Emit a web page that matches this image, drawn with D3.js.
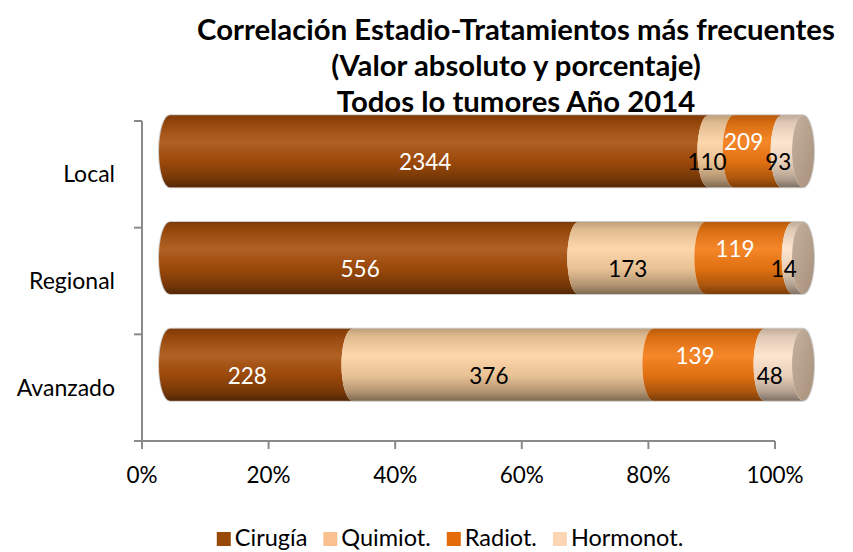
<!DOCTYPE html>
<html><head><meta charset="utf-8">
<script src="https://cdn.jsdelivr.net/npm/d3@7"></script>
<style>body{margin:0;background:#fff}svg{display:block}</style>
</head><body>
<script>
const categories = ["Local", "Regional", "Avanzado"];
const seriesNames = ["Cirugía", "Quimiot.", "Radiot.", "Hormonot."];
const cirugia  = [2344, 556, 228];
const quimiot  = [110, 173, 376];
const radiot   = [209, 119, 139];
const hormonot = [93, 14, 48];
const xTicks = [0, 0.2, 0.4, 0.6, 0.8, 1];
const titleLines = ["Correlación Estadio-Tratamientos más frecuentes", "(Valor absoluto y porcentaje)", "Todos lo tumores Año 2014"];

const barColors = ["#a84f0b", "#fdd3a2", "#f47a12", "#fde3cb"];
const legendColors = ["#984807", "#fac090", "#e46c0a", "#fcd5b5"];
const labelColors = ["#ffffff", "#000000", "#ffffff", "#000000"];
const labelDy = [11, 11, -9, 11];

const W = 853, H = 552;
const svg = d3.select("body").append("svg").attr("width", W).attr("height", H);
const FONT = "Lato, 'Open Sans', sans-serif";

const values = [cirugia, quimiot, radiot, hormonot];
const rows = categories.map((c, i) => {
  const vals = values.map(s => s[i]);
  const tot = d3.sum(vals);
  let acc = 0;
  return {cat: c, segs: vals.map((v, k) => { const s = {k, v, a: acc / tot, b: (acc + v) / tot}; acc += v; return s; })};
});

const plot = {l: 142, r: 775, t: 121, b: 441};
const x = d3.scaleLinear().domain([0, 1]).range([plot.l, plot.r]);
const y = d3.scaleBand().domain(categories).range([plot.t, plot.b]).paddingInner(0).paddingOuter(0);

// gradients
const defs = svg.append("defs");
const g1 = defs.append("linearGradient").attr("id", "shade").attr("x1", 0).attr("y1", 0).attr("x2", 0).attr("y2", 1);
[[0, "#000", 0.25], [0.1, "#000", 0.12], [0.38, "#fff", 0.1], [0.65, "#000", 0.08], [0.88, "#000", 0.3], [1, "#000", 0.5]]
  .forEach(s => g1.append("stop").attr("offset", s[0]).attr("stop-color", s[1]).attr("stop-opacity", s[2]));
const g2 = defs.append("linearGradient").attr("id", "capg").attr("x1", 0).attr("y1", 0).attr("x2", 1).attr("y2", 1);
g2.append("stop").attr("offset", 0).attr("stop-color", "#c4b19e");
g2.append("stop").attr("offset", 1).attr("stop-color", "#a8917c");

// axes
const axisColor = "#8a8a8a";
const ax = svg.append("g");
ax.append("line").attr("x1", plot.l).attr("x2", plot.l).attr("y1", plot.t).attr("y2", plot.b)
  .attr("stroke", axisColor).attr("stroke-width", 2);
const yEdges = categories.map(c => y(c)).concat([plot.b]);
ax.selectAll(".yt").data(yEdges).join("line").attr("x1", plot.l - 8).attr("x2", plot.l)
  .attr("y1", d => d).attr("y2", d => d).attr("stroke", axisColor).attr("stroke-width", 2);
ax.append("line").attr("x1", plot.l - 8).attr("x2", plot.r).attr("y1", plot.b).attr("y2", plot.b)
  .attr("stroke", axisColor).attr("stroke-width", 2);
ax.selectAll(".xt").data(xTicks).join("line").attr("x1", d => x(d)).attr("x2", d => x(d))
  .attr("y1", plot.b).attr("y2", plot.b + 8).attr("stroke", axisColor).attr("stroke-width", 2);
ax.selectAll(".xl").data(xTicks).join("text").attr("x", d => x(d)).attr("y", 483)
  .attr("text-anchor", "middle").attr("font-family", FONT).attr("font-size", 22.5).attr("fill", "#000")
  .text(d => d3.format(".0%")(d));
ax.selectAll(".yl").data(categories).join("text").attr("x", 115).attr("y", d => y(d) + y.bandwidth() / 2 + 8)
  .attr("text-anchor", "end").attr("font-family", FONT).attr("font-size", 23).attr("fill", "#000")
  .text(d => d);

// cylinders
const DX = 28, DY = -23, RX = 11, BH = 72;
const bx = v => x(v) + DX;
rows.forEach(row => {
  const cy = y(row.cat) + y.bandwidth() / 2 + DY;
  const T = cy - BH / 2, B = cy + BH / 2, ry = BH / 2;
  const g = svg.append("g");
  g.append("path")
    .attr("d", `M${bx(0)},${T} L${bx(1)},${T} A${RX},${ry} 0 0 1 ${bx(1)},${B} L${bx(0)},${B} A${RX},${ry} 0 0 1 ${bx(0)},${T}Z`)
    .attr("fill", "none").attr("stroke", "#cccccc").attr("stroke-width", 2);
  row.segs.forEach((s, i) => {
    const a = bx(s.a), b = bx(s.b);
    const d = `M${a},${T} L${b},${T} A${RX},${ry} 0 0 0 ${b},${B} L${a},${B} A${RX},${ry} 0 0 1 ${a},${T}Z`;
    g.append("path").attr("d", d).attr("fill", barColors[s.k]);
    g.append("path").attr("d", d).attr("fill", "url(#shade)");
  });
  g.append("ellipse").attr("cx", bx(1)).attr("cy", cy).attr("rx", RX).attr("ry", ry)
    .attr("fill", "url(#capg)");
  row.segs.forEach(s => {
    g.append("text").attr("x", x((s.a + s.b) / 2) + 14).attr("y", cy + labelDy[s.k] + 8)
      .attr("text-anchor", "middle").attr("font-family", FONT).attr("font-size", 22.5)
      .attr("fill", labelColors[s.k]).text(s.v);
  });
});

// title
const tg = svg.append("g");
const tBase = [40, 76, 112];
const tl = tg.selectAll("text").data(titleLines).join("text").attr("x", 516).attr("y", (d, i) => tBase[i])
  .attr("text-anchor", "middle").attr("font-family", FONT).attr("font-weight", "bold")
  .attr("font-size", 26).attr("fill", "#000").text(d => d);
const w0 = tl.nodes()[0].getComputedTextLength();
tl.attr("font-size", 26 * 638 / w0);

// legend
const lg = svg.append("g");
let lx = 0;
const GAP = 16;
seriesNames.forEach((n, i) => {
  const t = lg.append("text").attr("y", 546).attr("font-family", FONT).attr("font-size", 23.5).attr("fill", "#000").text(n);
  const r = lg.append("rect").attr("y", 532).attr("width", 14).attr("height", 14).attr("fill", legendColors[i]);
  const w = t.node().getComputedTextLength();
  r.attr("x", lx); t.attr("x", lx + 18);
  lx += 18 + w + GAP;
});
const total = lx - GAP;
lg.attr("transform", `translate(${450 - total / 2},0)`);
</script>
</body></html>
